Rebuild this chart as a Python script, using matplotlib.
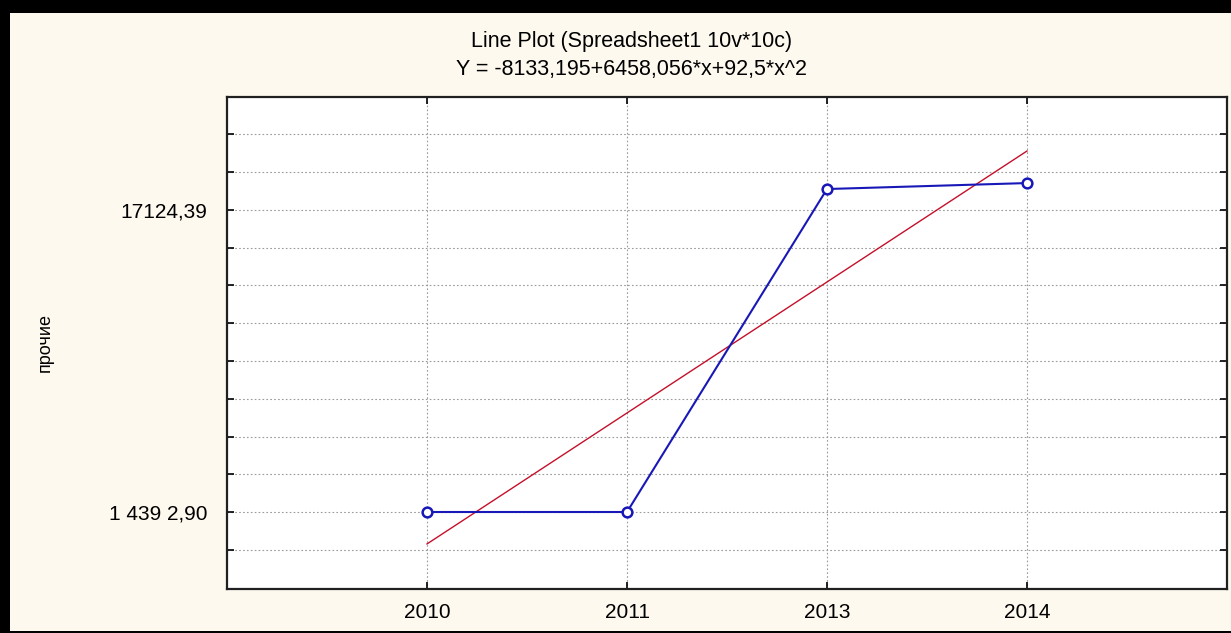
import numpy as np
import matplotlib.pyplot as plt
from matplotlib.patches import Rectangle

# Data
years = ["2010", "2011", "2013", "2014"]
values = [14392.90, 14392.90, 17314.0, 17368.0]
fit_x = [0, 3]
fit_y = [14104.0, 17658.0]

tick_labels = {14392.90: "1 439 2,90", 17124.39: "17124,39"}
tick_step = 341.436

plt.rcParams['font.family'] = ['Liberation Sans', 'DejaVu Sans']

fig = plt.figure(figsize=(12.31, 6.33), dpi=100)
fig.patch.set_facecolor('black')
# cream page inside the black frame (runs past the right edge)
fig.patches.append(Rectangle((10 / 1231, 2 / 633), 1240 / 1231, 618 / 633,
                             transform=fig.transFigure, facecolor='#fdf9ef',
                             edgecolor='none', zorder=-10))

ax = fig.add_axes([227 / 1231, 1 - 589 / 633, 1000 / 1231, 492 / 633])
ax.set_facecolor('white')

x = np.arange(len(years))
ax.plot(fit_x, fit_y, color='#c4102a', linewidth=1.0, zorder=3)
ax.plot(x, values, color='#1818b8', linewidth=1.5, marker='o', markersize=7,
        markerfacecolor='white', markeredgecolor='#1818b8', markeredgewidth=1.8,
        zorder=4)

ax.set_xlim(-1, 4)
ax.set_xticks(x)
ax.set_xticklabels(years, fontsize=15)

ax.set_ylim(13696.5, 18146.4)
yt = 14392.90 + tick_step * np.arange(-1, 11)
ax.set_yticks(yt)
labels = []
for v in yt:
    lab = ""
    for k, s in tick_labels.items():
        if abs(v - k) < 1:
            lab = s
    labels.append(lab)
ax.set_yticklabels(labels, fontsize=15)

ax.tick_params(direction='in', length=5, width=1.2, top=True, right=True,
               colors='black', pad=14)
ax.tick_params(axis='x', pad=10)
ax.grid(True, linestyle=(0, (1.5, 2)), color='#9a9a9a', linewidth=0.8)
for sp in ax.spines.values():
    sp.set_linewidth(1.6)
    sp.set_color('#202020')

fig.text(45 / 1231, 1 - 342 / 633, "прочие", rotation=90, fontsize=13,
         ha='center', va='center')

fig.text(632 / 1231, 1 - 42 / 633, "Line Plot (Spreadsheet1 10v*10c)",
         fontsize=15.5, ha='center', va='center')
fig.text(632 / 1231, 1 - 70 / 633, "Y = -8133,195+6458,056*x+92,5*x^2",
         fontsize=15.5, ha='center', va='center')

plt.savefig("out.png", dpi=100, facecolor=fig.get_facecolor())
